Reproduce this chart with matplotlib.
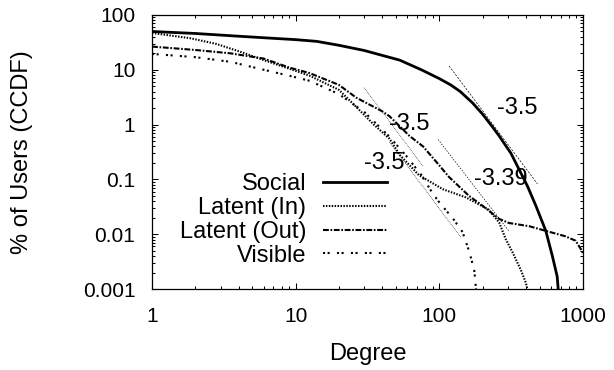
import numpy as np
import matplotlib
matplotlib.use("Agg")
import matplotlib.pyplot as plt
from matplotlib.ticker import LogLocator, FixedLocator, FixedFormatter, NullFormatter

plt.rcParams['font.family'] = ['Liberation Sans', 'DejaVu Sans']

# CCDF of node degree, percent of users
social_deg = [1, 2, 4, 7, 10, 14, 20, 30, 53, 75, 100, 120, 140, 170, 200, 235, 261,
              315, 359, 410, 470, 551, 612, 661, 672]
social_pct = [50, 46, 41, 37.5, 35.5, 33, 28, 22.5, 15, 10, 6.9, 5.3, 4.0, 2.5, 1.55,
              0.9, 0.62, 0.3, 0.152, 0.076, 0.033, 0.0115, 0.004, 0.0017, 0.001]

latent_in_deg = [1, 1.84, 2.8, 4.3, 6, 9, 12.5, 20, 26.4, 35, 45, 53, 72, 106, 153,
                 221, 261, 290, 323, 370, 400, 410]
latent_in_pct = [47, 37.7, 29.7, 20.5, 15, 10.5, 7.8, 4.3, 2.1, 1.0, 0.55, 0.28, 0.12,
                 0.066, 0.047, 0.028, 0.0163, 0.0081, 0.0047, 0.0022, 0.0013, 0.001]

latent_out_deg = [1, 2, 3.5, 6, 9, 12.5, 20, 26.4, 40, 45, 62, 77, 100, 117, 161, 200,
                  261, 306, 422, 551, 750, 889, 964, 1000]
latent_out_pct = [26.5, 23, 20, 16, 11, 8.7, 5.3, 3.1, 1.75, 1.42, 0.62, 0.40, 0.18,
                  0.11, 0.05, 0.033, 0.019, 0.016, 0.014, 0.0115, 0.0092, 0.0076,
                  0.0054, 0.0045]

visible_deg = [1, 2, 3.5, 6, 9, 12.5, 20, 30, 45, 58.7, 75, 90, 100, 125, 145, 162,
               175, 180]
visible_pct = [19.5, 17, 14, 10, 7.8, 6.3, 3.6, 1.7, 0.6, 0.27, 0.12, 0.055, 0.038,
               0.019, 0.011, 0.0047, 0.0022, 0.001]

# power-law fits: slope, a point on the line, degree range, label position
fits = [
    (-3.5, (138, 6.58), (117, 482), "-3.5", (348, 2.0)),
    (-3.39, (100, 0.50), (98, 306), "-3.39", (270, 0.1)),
    (-3.5, (30.1, 4.64), (30, 77), "-3.5", (62, 1.02)),
    (-3.5, (141.5, 0.0087), (45, 141.5), "-3.5", (41.5, 0.2)),
]
fit_styles = [(0, (3, 2)), (0, (2, 2)), (0, (1, 1.5)), (0, (1, 1.5))]

fig = plt.figure(figsize=(6.14, 3.70), dpi=100)
ax = fig.add_axes([0.2476, 0.2189, 0.7019, 0.7406])

ax.plot(social_deg, social_pct, color='k', lw=2.0, ls='-', label='Social')
ax.plot(latent_in_deg, latent_in_pct, color='k', lw=1.5, ls=(0, (0.7, 0.7)),
        label='Latent (In)')
ax.plot(latent_out_deg, latent_out_pct, color='k', lw=1.5,
        ls=(0, (2.8, 0.8, 0.8, 0.8)), label='Latent (Out)')
ax.plot(visible_deg, visible_pct, color='k', lw=1.5, ls=(0, (1, 1.2, 1, 3.5)),
        label='Visible')

for (slope, (d0, v0), (lo, hi), txt, (tx, ty)), st in zip(fits, fit_styles):
    d = np.array([lo, hi], dtype=float)
    ax.plot(d, v0 * (d / d0) ** slope, color='k', lw=0.5, ls=st)
    ax.text(tx, ty, txt, fontsize=17, ha='center', va='center')

ax.set_xscale('log')
ax.set_yscale('log')
ax.set_xlim(1, 1000)
ax.set_ylim(0.001, 100)

ax.xaxis.set_major_locator(FixedLocator([1, 10, 100, 1000]))
ax.xaxis.set_major_formatter(FixedFormatter(['1', '10', '100', '1000']))
ax.xaxis.set_minor_locator(LogLocator(base=10, subs=np.arange(2, 10)))
ax.xaxis.set_minor_formatter(NullFormatter())
yt = [0.001, 0.01, 0.1, 1, 10, 100]
ax.yaxis.set_major_locator(FixedLocator(yt))
ax.yaxis.set_major_formatter(FixedFormatter(['0.001', '0.01', '0.1', '1', '10', '100']))
ax.yaxis.set_minor_locator(LogLocator(base=10, subs=np.arange(2, 10)))
ax.yaxis.set_minor_formatter(NullFormatter())

ax.tick_params(which='both', direction='in', top=True, right=True, width=0.75)
ax.tick_params(which='major', length=4.5)
ax.tick_params(which='minor', length=2.2)
ax.tick_params(axis='x', which='major', labelsize=15, pad=13)
ax.tick_params(axis='y', which='major', labelsize=15, pad=12)
for s in ax.spines.values():
    s.set_linewidth(0.9)

ax.set_xlabel('Degree', fontsize=17)
ax.set_ylabel('% of Users (CCDF)', fontsize=17)
ax.xaxis.set_label_coords(0.5, -0.197)
ax.yaxis.set_label_coords(-0.276, 0.5)

ax.legend(loc='upper right', bbox_to_anchor=(0.545, 0.423), frameon=False,
          markerfirst=False, fontsize=17, handlelength=2.7, handletextpad=0.72,
          labelspacing=0.08, borderpad=0, borderaxespad=0)

fig.savefig('out.png', dpi=100)
